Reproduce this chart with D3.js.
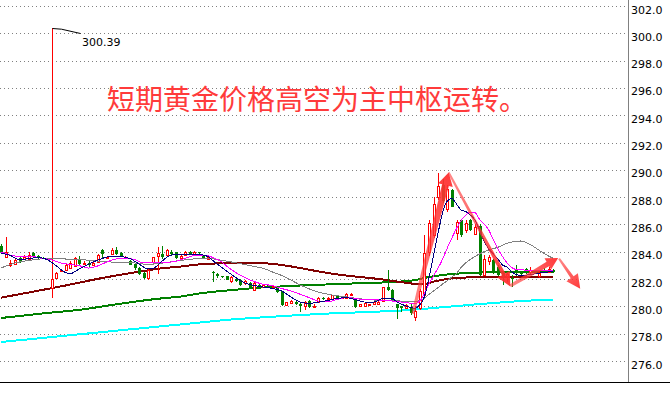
<!DOCTYPE html>
<html><head><meta charset="utf-8">
<script src="https://cdn.jsdelivr.net/npm/d3@7"></script>
<style>html,body{margin:0;padding:0;background:#fff;overflow:hidden}</style>
</head><body>
<svg id="chart" width="670" height="400"></svg>
<script>
// Gold price candles (one per bar, oldest first)
const opens = [284.45,283.65,283.05,283.1,283.52,283.47,283.45,283.88,283.7,283.55,283.5,281.33,282.08,282.6,282.7,282.8,282.95,283.5,283.1,283.2,283.05,283.27,284.1,283.55,283.8,284.15,283.9,283.55,283.35,283.1,282.8,282.42,282.05,283.27,283.7,283.85,283.75,284.0,283.95,283.55,283.75,284.0,283.85,283.95,283.75,283.5,282.55,282.4,282.2,282.2,281.85,282.0,281.95,281.7,281.7,281.2,281.6,281.45,281.55,281.45,281.4,281.1,280.1,280.25,280.35,280.2,280.0,280.4,280.0,280.35,280.65,280.55,280.55,280.8,280.65,280.65,280.8,280.6,280.0,280.05,280.1,280.15,280.2,280.4,281.45,281.2,280.15,280.0,279.85,279.95,279.25,279.9,280.8,284.0,285.2,288.0,288.9,287.1,288.5,285.35,286.3,285.6,286.3,285.3,285.9,282.3,283.3,283.4,282.9,282.5,282.2,282.1,282.65,282.55,282.75,282.5,282.65,282.2,282.65,282.55,282.7];
const highs = [284.6,285.1,283.4,283.55,283.6,283.75,283.95,284.0,283.75,283.6,283.55,300.39,282.55,282.75,283.1,283.3,283.65,283.7,283.3,283.35,283.3,283.85,284.2,283.7,284.3,284.35,283.95,283.7,283.4,283.15,282.85,282.5,282.75,283.65,284.35,284.45,284.2,284.1,284.0,283.8,284.05,284.05,284.05,283.98,283.8,283.7,282.6,282.45,282.25,282.25,282.2,282.05,282.0,281.9,281.75,281.75,281.65,281.65,281.6,281.55,281.45,281.15,280.35,280.45,280.4,280.25,280.4,280.45,280.2,280.7,280.7,280.7,280.85,280.85,280.75,280.95,280.95,280.65,280.2,280.3,280.2,280.35,280.4,281.45,282.7,281.25,280.2,280.05,280.2,280.15,280.0,281.3,285.2,286.3,288.0,289.75,289.3,288.9,288.6,286.35,286.4,286.35,286.4,286.0,286.0,283.75,283.75,283.45,283.0,282.6,282.45,282.3,283.0,282.6,282.8,282.85,282.7,282.6,282.8,282.9,282.75];
const lows = [283.9,283.6,282.85,283.0,283.15,283.4,283.4,283.55,283.45,283.45,283.4,280.64,281.98,282.55,282.6,282.75,282.9,283.0,283.05,282.9,283.0,283.2,283.55,283.5,283.75,283.75,283.65,283.5,283.0,282.7,282.3,282.0,281.95,283.2,282.4,283.45,283.7,283.75,283.45,283.5,283.7,283.8,283.8,283.85,283.45,283.45,281.75,282.1,282.1,281.9,281.7,281.8,281.5,281.6,281.35,281.15,281.4,281.4,281.4,281.4,280.95,280.05,280.05,280.2,280.1,279.6,279.75,279.9,279.95,280.3,280.5,280.5,280.5,280.55,280.6,280.6,280.75,279.9,279.95,280.0,280.05,280.1,280.15,280.35,281.15,280.45,279.1,279.6,279.8,279.35,278.9,279.7,280.7,283.7,285.0,287.8,287.6,286.9,287.3,284.85,285.1,285.35,285.5,285.2,282.2,282.2,283.05,282.4,282.2,281.6,281.8,281.45,282.25,282.3,282.4,282.4,282.45,282.1,282.55,282.5,282.45];
const closes = [284.0,283.95,283.2,283.4,283.23,283.6,283.76,283.6,283.55,283.5,283.45,282.0,282.44,282.68,283.0,283.2,283.55,283.1,283.2,283.0,283.2,283.76,283.8,283.65,284.15,283.8,283.7,283.65,283.05,282.8,282.35,282.05,282.66,283.6,283.9,283.65,284.1,283.8,283.55,283.7,284.0,283.85,283.95,283.9,283.5,283.6,282.45,282.2,282.15,281.95,282.15,281.85,281.6,281.85,281.4,281.7,281.45,281.6,281.45,281.5,281.05,280.1,280.3,280.4,280.15,280.0,280.35,279.95,280.05,280.65,280.55,280.65,280.8,280.6,280.7,280.9,280.9,279.95,280.15,280.25,280.15,280.3,280.35,281.4,281.2,280.5,279.85,279.85,280.1,279.5,279.65,281.1,283.9,286.1,287.5,288.8,287.7,288.6,287.3,286.2,285.25,286.1,285.6,285.85,282.3,283.5,283.6,282.55,282.3,282.2,282.35,282.0,282.45,282.35,282.45,282.65,282.5,282.55,282.6,282.75,282.5];

// Moving averages as [bar, price]
const ma5 = [[0,283.91],[2,283.73],[4,283.43],[6,283.49],[8,283.58],[10,283.43],[12,282.96],[14,282.48],[15,282.37],[16,282.55],[18,282.92],[20,283.25],[22,283.51],[24,283.69],[26,283.65],[28,283.51],[30,283.10],[32,282.74],[33,282.77],[35,283.32],[37,283.76],[40,283.81],[43,283.80],[45,283.65],[46,283.36],[47,283.10],[49,282.59],[51,282.12],[53,281.71],[55,281.53],[57,281.42],[59,281.31],[61,281.13],[63,280.69],[65,280.32],[67,280.22],[69,280.32],[71,280.43],[73,280.58],[75,280.64],[77,280.50],[79,280.32],[81,280.32],[83,280.58],[85,280.58],[86,280.34],[88,280.03],[90,279.86],[91,280.10],[92,280.69],[93,282.08],[94,283.69],[95,285.38],[96,286.91],[97,287.72],[98,287.90],[99,287.50],[100,287.06],[101,286.95],[102,286.69],[103,286.33],[104,285.60],[105,284.79],[106,284.20],[107,283.84],[108,283.47],[109,283.03],[110,282.88],[111,282.54],[112,282.33],[113,282.26],[115,282.33],[117,282.44],[119,282.52],[120,282.55]];
const ma10 = [[0,283.98],[2,283.76],[4,283.64],[7,283.64],[9,283.52],[11,283.40],[13,283.18],[15,283.07],[17,282.98],[19,282.81],[21,282.96],[23,283.25],[25,283.47],[27,283.52],[29,283.43],[31,283.18],[33,283.18],[35,283.23],[37,283.25],[39,283.40],[41,283.64],[43,283.76],[45,283.71],[46,283.58],[48,283.25],[49,282.96],[51,282.48],[53,282.12],[55,281.82],[57,281.62],[59,281.52],[61,281.31],[63,281.13],[65,280.89],[67,280.64],[69,280.39],[71,280.34],[73,280.50],[75,280.64],[77,280.59],[79,280.47],[82,280.47],[84,280.42],[86,280.36],[88,280.28],[90,280.21],[91,280.39],[92,280.91],[93,281.64],[94,282.23],[95,282.81],[96,283.47],[97,284.28],[98,285.01],[99,285.71],[100,286.29],[101,286.69],[102,286.91],[103,286.87],[104,286.39],[105,286.03],[106,285.60],[107,284.87],[108,284.21],[109,283.65],[110,283.18],[111,282.85],[112,282.70],[114,282.66],[117,282.63],[120,282.61]];
const ma20 = [[0,282.81],[2,283.07],[4,283.25],[6,283.36],[8,283.45],[10,283.52],[12,283.52],[14,283.47],[17,283.45],[19,283.38],[21,283.32],[23,283.27],[25,283.23],[28,283.21],[30,283.14],[32,283.07],[34,283.14],[36,283.21],[38,283.32],[40,283.41],[43,283.50],[45,283.52],[47,283.43],[49,283.32],[51,283.19],[53,283.07],[55,282.92],[57,282.78],[59,282.52],[61,282.26],[63,281.93],[65,281.57],[67,281.28],[69,281.05],[72,280.83],[75,280.69],[79,280.52],[83,280.43],[87,280.39],[90,280.34],[91,280.43],[92,280.61],[93,280.87],[94,281.13],[95,281.38],[96,281.64],[97,281.88],[98,282.15],[99,282.41],[100,282.85],[101,283.18],[102,283.43],[103,283.65],[104,283.84],[106,284.13],[108,284.33],[110,284.62],[113,284.79],[115,284.54],[117,284.10],[119,283.69],[120,283.52]];
const ma60 = [[0,280.64],[7,281.08],[14,281.53],[22,282.08],[30,282.54],[35,282.79],[39,282.92],[43,283.07],[48,283.16],[53,283.18],[57,283.16],[61,283.03],[65,282.81],[69,282.56],[74,282.30],[78,282.15],[82,282.01],[86,281.82],[90,281.65],[92,281.62],[94,281.81],[97,282.01],[100,282.10],[103,282.13],[120,282.13]];
const ma120 = [[0,279.15],[9,279.48],[18,279.79],[24,280.10],[30,280.39],[35,280.59],[39,280.72],[43,280.94],[48,281.13],[52,281.25],[56,281.37],[61,281.46],[65,281.53],[72,281.62],[79,281.71],[86,281.80],[90,281.93],[93,282.15],[96,282.30],[100,282.42],[104,282.48],[120,282.55]];
const ma250 = [[0,277.39],[22,278.12],[43,278.81],[50,279.04],[57,279.20],[65,279.37],[72,279.49],[80,279.59],[87,279.70],[91,279.79],[95,279.91],[104,280.17],[113,280.39],[120,280.50]];

const yTicks = [302,300,298,296,294,292,290,288,286,284,282,280,278,276];
const title = "短期黄金价格高空为主中枢运转。";
// Hand-drawn trend arrows: [bar, price] start and tip
const trendArrows = [
  [[89.5, 279.45], [97.3, 289.8]],
  [[97.3, 289.8], [110.7, 281.45]],
  [[110.7, 281.5], [121.1, 283.55]],
  [[121.3, 283.5], [125.9, 281.3]]
];

const svg = d3.select("#chart");
const n = opens.length;
const plotRight = 628, plotBottom = 382;
const x = d3.scaleLinear().domain([0, n - 1]).range([1.1, 1.1 + 4.6 * (n - 1)]);
const y = d3.scaleLinear().domain([276, 302]).range([361, 6]);
const crisp = v => Math.round(v) + 0.5;

// dotted price grid
svg.append("g").selectAll("line").data(yTicks).join("line")
  .attr("x1", 0).attr("x2", plotRight)
  .attr("y1", d => crisp(y(d))).attr("y2", d => crisp(y(d)))
  .attr("stroke", "#808080").attr("stroke-dasharray", "1,3");

// right price axis
const axis = d3.axisRight(y).tickValues(yTicks).tickFormat(d3.format(".1f")).tickSize(0).tickPadding(3);
const gAxis = svg.append("g").attr("transform", `translate(${plotRight},0)`).call(axis);
gAxis.select(".domain").remove();
gAxis.selectAll("text").attr("dy", 7).attr("fill", "#000")
  .style("font-family", "'DejaVu Sans', Verdana, sans-serif").style("font-size", "11px");
svg.append("line").attr("x1", plotRight + 0.5).attr("x2", plotRight + 0.5).attr("y1", 0).attr("y2", plotBottom)
  .attr("stroke", "#808080");
svg.append("line").attr("x1", 0).attr("x2", 670).attr("y1", plotBottom + 0.5).attr("y2", plotBottom + 0.5)
  .attr("stroke", "#000");

// long moving averages sit beneath the candles
const line = d3.line().x(d => x(d[0])).y(d => y(d[1])).curve(d3.curveMonotoneX);
const drawMA = (data, color, w) => svg.append("path").attr("d", line(data)).attr("fill", "none")
  .attr("stroke", color).attr("stroke-width", w).attr("shape-rendering", "crispEdges");
drawMA(ma250, "#00ffff", 2);
drawMA(ma120, "#008000", 2);
drawMA(ma60, "#800000", 2);

// candles
const bars = d3.range(n).map(i => ({i, o: opens[i], h: highs[i], l: lows[i], c: closes[i]}));
const gC = svg.append("g").attr("shape-rendering", "crispEdges");
bars.forEach(b => {
  const xc = crisp(x(b.i));
  const up = b.c >= b.o;
  const yTop = Math.round(y(Math.max(b.o, b.c)));
  const yBot = Math.round(y(Math.min(b.o, b.c)));
  if (up) {
    gC.append("line").attr("x1", xc).attr("x2", xc).attr("y1", y(b.h)).attr("y2", yTop).attr("stroke", "#ff0000");
    gC.append("line").attr("x1", xc).attr("x2", xc).attr("y1", yBot).attr("y2", y(b.l)).attr("stroke", "#ff0000");
    gC.append("rect").attr("x", xc - 1).attr("y", yTop + 0.5).attr("width", 2).attr("height", Math.max(yBot - yTop, 1))
      .attr("fill", "#fff").attr("stroke", "#ff0000");
  } else {
    gC.append("line").attr("x1", xc).attr("x2", xc).attr("y1", y(b.h)).attr("y2", y(b.l)).attr("stroke", "#008000");
    gC.append("rect").attr("x", xc - 1.5).attr("y", yTop).attr("width", 3).attr("height", Math.max(yBot - yTop, 1))
      .attr("fill", "#008000");
  }
});

// short moving averages on top
drawMA(ma20, "#808080", 1);
drawMA(ma10, "#ff00ff", 1);
drawMA(ma5, "#000080", 1);

// highest-price marker
const iMax = d3.maxIndex(highs);
const mx = crisp(x(iMax)), my = Math.round(y(highs[iMax])) + 0.5;
svg.append("path").attr("d", `M${mx},${my}L${mx + 9},${my + 0.7}L${mx + 28},${my + 5}`)
  .attr("fill", "none").attr("stroke", "#000").attr("stroke-width", 1);
svg.append("text").attr("x", mx + 29.5).attr("y", my + 17.7).text(highs[iMax].toFixed(2))
  .attr("fill", "#000").style("font-family", "'DejaVu Sans', Verdana, sans-serif").style("font-size", "11px");

// trend arrows
const defs = svg.append("defs");
defs.append("filter").attr("id", "soft").append("feGaussianBlur").attr("stdDeviation", 0.6);
const widths = [[3, 7, 13, 15], [2, 4, 14, 14], [3, 5, 12, 13], [2, 3.5, 14, 14]];
trendArrows.forEach((a, k) => {
  const p0 = [x(a[0][0]), y(a[0][1])], p1 = [x(a[1][0]), y(a[1][1])];
  const [w0, w1, hl, hw] = widths[k];
  const dx = p1[0] - p0[0], dy = p1[1] - p0[1], L = Math.hypot(dx, dy);
  const ux = dx / L, uy = dy / L, nx = -uy, ny = ux;
  const bx = p1[0] - ux * hl, by = p1[1] - uy * hl;
  const pts = [
    [p0[0] + nx * w0 / 2, p0[1] + ny * w0 / 2],
    [bx + nx * w1 / 2, by + ny * w1 / 2],
    [bx + nx * hw / 2, by + ny * hw / 2],
    p1,
    [bx - nx * hw / 2, by - ny * hw / 2],
    [bx - nx * w1 / 2, by - ny * w1 / 2],
    [p0[0] - nx * w0 / 2, p0[1] - ny * w0 / 2]
  ];
  const gid = "ag" + k;
  const g = defs.append("linearGradient").attr("id", gid).attr("gradientUnits", "userSpaceOnUse")
    .attr("x1", p0[0]).attr("y1", p0[1]).attr("x2", p1[0]).attr("y2", p1[1]);
  g.append("stop").attr("offset", 0).attr("stop-color", "#ff3b3b").attr("stop-opacity", 0.6);
  g.append("stop").attr("offset", 1).attr("stop-color", "#ff3030").attr("stop-opacity", 0.95);
  svg.append("path").attr("d", "M" + pts.map(p => p.join(",")).join("L") + "Z")
    .attr("fill", `url(#${gid})`).attr("filter", "url(#soft)");
});

// headline
svg.append("text").attr("x", 107).attr("y", 110).text(title)
  .attr("fill", "#ff3b3b")
  .style("font-family", "'Noto Sans CJK SC', sans-serif").style("font-size", "28px");
</script>
</body></html>
